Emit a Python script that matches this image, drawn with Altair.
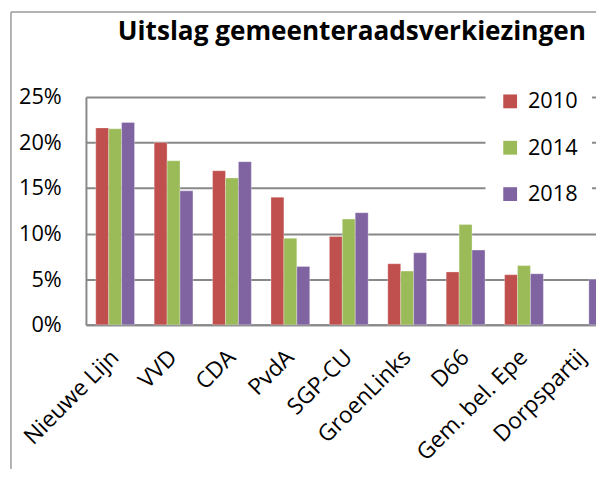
import altair as alt
import pandas as pd

parties = ["Nieuwe Lijn", "VVD", "CDA", "PvdA", "SGP-CU", "GroenLinks", "D66", "Gem. bel. Epe", "Dorpspartij"]
years = ["2010", "2014", "2018"]
v2010 = [21.6, 20.0, 16.9, 14.0, 9.7, 6.7, 5.8, 5.5, None]
v2014 = [21.5, 18.0, 16.1, 9.5, 11.6, 5.9, 11.0, 6.5, None]
v2018 = [22.2, 14.7, 17.9, 6.4, 12.3, 7.9, 8.2, 5.6, 5.0]
colors = ["#C0504D", "#9BBB59", "#8064A2"]
title_text = "Uitslag gemeenteraadsverkiezingen"
y_ticks = [0, 0.05, 0.10, 0.15, 0.20, 0.25]

rows = []
for year, vals in zip(years, [v2010, v2014, v2018]):
    for p, v in zip(parties, vals):
        if v is not None:
            rows.append({"partij": p, "jaar": year, "aandeel": v / 100})
df = pd.DataFrame(rows)

FONT = "Open Sans"
GRID = "#888888"
W, H = 517, 231
STEP = 59.2
FULL = STEP * len(parties)

bars = alt.Chart(df).mark_bar(stroke="white", strokeWidth=0.6, strokeOpacity=0.5).encode(
    x=alt.X(
        "partij:N", sort=parties,
        scale=alt.Scale(range=[0, FULL], paddingInner=0.336, paddingOuter=0.168),
        axis=alt.Axis(title=None, labelAngle=-45, labelFontSize=23, labelFont=FONT,
                      labelColor="black", ticks=False, domainColor=GRID, domainWidth=2,
                      labelAlign="right", labelBaseline="middle",
                      labelPadding=29, grid=False, labelOverlap=False),
    ),
    xOffset=alt.XOffset("jaar:N", sort=years, scale=alt.Scale(paddingInner=0, paddingOuter=0)),
    y=alt.Y(
        "aandeel:Q",
        scale=alt.Scale(domain=[0, 0.25], nice=False),
        axis=alt.Axis(title=None, values=y_ticks, format=".0%", labelFontSize=22,
                      labelFont=FONT, labelColor="black", ticks=False, labelPadding=25,
                      domainColor=GRID, domainWidth=2, gridColor=GRID, gridWidth=2),
    ),
    color=alt.Color(
        "jaar:N", sort=years,
        scale=alt.Scale(domain=years, range=colors),
        legend=alt.Legend(title=None, orient="none", legendX=405, legendY=-20.5,
                          fillColor="white", padding=14, symbolType="square",
                          symbolSize=196, symbolStrokeWidth=0, symbolOpacity=1,
                          labelFontSize=22, labelFont=FONT, labelColor="black",
                          labelOffset=7, rowPadding=25),
    ),
)

one = pd.DataFrame({"k": [0]})
frame_left = alt.Chart(one).mark_rule(color="#9a9a9a", strokeWidth=1.5).encode(
    x=alt.value(-76), y=alt.value(-86), y2=alt.value(H + 160)
)
frame_top = alt.Chart(one).mark_rule(color="#9a9a9a", strokeWidth=1.5).encode(
    x=alt.value(-76), x2=alt.value(W + 10), y=alt.value(-86)
)

chart = alt.layer(frame_left, frame_top, bars).properties(
    width=W, height=H,
    title=alt.TitleParams(text=title_text, font=FONT, fontSize=26.5, fontWeight="bold",
                          color="black", anchor="middle", frame="group", dx=11, offset=-35),
    autosize=alt.AutoSizeParams(type="none"),
    padding={"left": 79, "top": 87, "right": 0, "bottom": 143},
).configure_view(stroke=None)

chart.save("out.html", embed_options={"renderer": "svg", "actions": False})
